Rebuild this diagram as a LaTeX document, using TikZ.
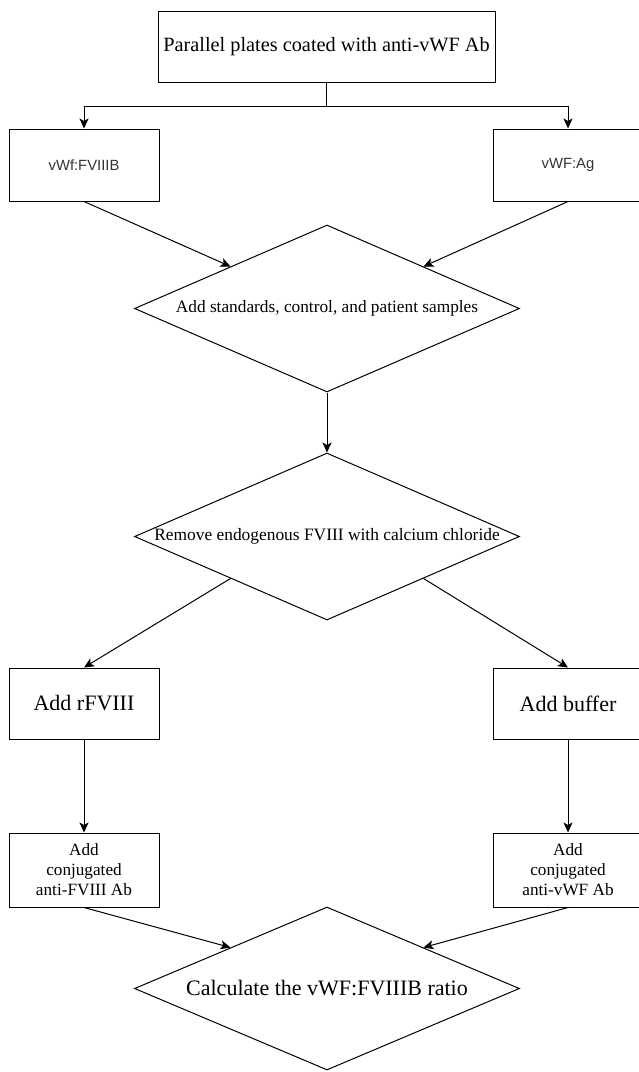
\documentclass[tikz,border=0pt]{standalone}
\usepackage{fontspec}
\setmainfont{Liberation Serif}
\newfontfamily\arialfont{Liberation Sans}
\usetikzlibrary{shapes.geometric,arrows.meta,calc}
\tikzset{
  box/.style={draw, line width=1pt, rectangle, inner sep=0pt, align=center},
  dia/.style={draw, line width=1pt, diamond, inner sep=0pt},
  arr/.style={draw, line width=1pt, -{Stealth[length=10pt,width=9pt,inset=2.5pt]}},
  plain/.style={draw, line width=1pt},
  lbl/.style={inner sep=0pt, align=center},
}
\begin{document}
\begin{tikzpicture}[x=1pt,y=-1pt]
\useasboundingbox (0,0) rectangle (638,1072);
% top box
\node[box, minimum width=337pt, minimum height=71pt, font=\fontsize{20.3}{24}\selectfont] (t) at (326.5,46.5) {Parallel plates coated with anti-vWF Ab};
% second row
\node[box, minimum width=150pt, minimum height=72pt, font=\arialfont\fontsize{14.8}{18}\selectfont, text=black!80] (b1) at (84,165) {vWf:FVIIIB};
\node[box, minimum width=150pt, minimum height=72pt, font=\arialfont\fontsize{14.8}{18}\selectfont, text=black!80] (b2) at (568,165) {vWF:Ag};
% diamond 1
\node[dia, minimum width=385pt, minimum height=167pt] (d1) at (327,308.5) {};
\node[lbl, font=\fontsize{17.3}{20}\selectfont] (d1t) at (d1.center) {Add standards, control, and patient samples};
% diamond 2
\node[dia, minimum width=385pt, minimum height=167pt] (d2) at (327,536.5) {};
\node[lbl, font=\fontsize{17.4}{20}\selectfont] (d2t) at (d2.center) {Remove endogenous FVIII with calcium chloride};
% third row
\node[box, minimum width=150pt, minimum height=71pt, font=\fontsize{22}{26}\selectfont] (b3) at (84,703.5) {Add rFVIII};
\node[box, minimum width=150pt, minimum height=71pt, font=\fontsize{22}{26}\selectfont] (b4) at (568,703.5) {Add buffer};
% fourth row
\node[box, minimum width=150pt, minimum height=74pt, font=\fontsize{17.2}{20}\selectfont] (b5) at (84,870) {Add\\conjugated\\anti-FVIII Ab};
\node[box, minimum width=150pt, minimum height=74pt, font=\fontsize{17.2}{20}\selectfont] (b6) at (568,870) {Add\\conjugated\\anti-vWF Ab};
% diamond 3
\node[dia, minimum width=385pt, minimum height=163pt] (d3) at (327,988.5) {};
\node[lbl, font=\fontsize{22}{26}\selectfont] (d3t) at (d3.center) {Calculate the vWF:FVIIIB ratio};
% connectors
\coordinate (split) at ($(t.south)+(0,24)$);
\draw[plain] (t.south) -- (split);
\draw[arr] (split) -| (b1.north);
\draw[arr] (split) -| (b2.north);
\draw[arr] (b1.south) -- ($(d1.north)!0.5!(d1.west)$);
\draw[arr] (b2.south) -- ($(d1.north)!0.5!(d1.east)$);
\draw[arr] (d1.south) -- (d2.north);
\draw[arr] ($(d2.south)!0.5!(d2.west)$) -- (b3.north);
\draw[arr] ($(d2.south)!0.5!(d2.east)$) -- (b4.north);
\draw[arr] (b3.south) -- (b5.north);
\draw[arr] (b4.south) -- (b6.north);
\draw[arr] (b5.south) -- ($(d3.north)!0.5!(d3.west)$);
\draw[arr] (b6.south) -- ($(d3.north)!0.5!(d3.east)$);
\end{tikzpicture}
\end{document}
